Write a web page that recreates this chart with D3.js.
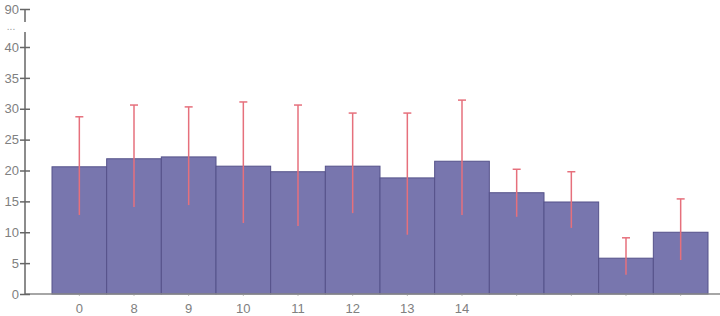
<!DOCTYPE html>
<html>
<head>
<meta charset="utf-8">
<script src="https://cdn.jsdelivr.net/npm/d3@7"></script>
<style>
  body { margin: 0; background: #fff; }
  #canvas { width: 720px; height: 316px; }
  .tick text { font-family: "Liberation Sans", Arial, sans-serif; fill: #808080; }
</style>
</head>
<body>
<div id="canvas"></div>
<script>
// data
const categories = ["a", "b", "c", "d", "e", "f", "g", "h", "i", "j", "k", "l"];
const labels = ["0", "8", "9", "10", "11", "12", "13", "14", "", "", "", ""];
const means = [20.6, 21.9, 22.2, 20.7, 19.8, 20.7, 18.8, 21.5, 16.4, 14.9, 5.8, 10.0];
const errHigh = [28.7, 30.6, 30.3, 31.1, 30.6, 29.3, 29.3, 31.4, 20.2, 19.8, 9.1, 15.4];
const errLow = [12.8, 14.1, 14.4, 11.5, 11.0, 13.1, 9.6, 12.8, 12.5, 10.7, 3.1, 5.5];
const yTicks = [0, 5, 10, 15, 20, 25, 30, 35, 40, 90];

const width = 720;
const height = 316;
const margin = { top: 9, left: 25, bottom: 22, right: 0 };

const svg = d3.select("#canvas").append("svg")
	.attr("width", width)
	.attr("height", height);

// broken axis: 0-40 linear, then jump to 90 at the top
const y = d3.scaleLinear().domain([0, 40, 90]).range([294, 47, margin.top]);

const x = d3.scaleBand()
	.domain(categories)
	.range([52, 708])
	.padding(0);

// bars
svg.append("g")
	.selectAll("rect")
	.data(means)
	.enter()
	.append("rect")
	.attr("x", (d, i) => x(categories[i]))
	.attr("y", (d) => y(d))
	.attr("width", x.bandwidth())
	.attr("height", (d) => y(0) - y(d))
	.style("fill", "#7876ae")
	.style("stroke", "#55528a")
	.style("stroke-width", 1);

// error bars, cap only on top
const err = svg.append("g")
	.style("stroke", "#e6707c")
	.style("stroke-width", 1.5);

categories.forEach((c, i) => {
	const cx = x(c) + x.bandwidth() / 2;
	err.append("line")
		.attr("x1", cx).attr("x2", cx)
		.attr("y1", y(errLow[i])).attr("y2", y(errHigh[i]));
	err.append("line")
		.attr("x1", cx - 4).attr("x2", cx + 4)
		.attr("y1", y(errHigh[i])).attr("y2", y(errHigh[i]));
});

// x axis
const xAxis = svg.append("g")
	.attr("transform", `translate(0, ${y(0)})`)
	.call(d3.axisBottom(x).tickFormat((d, i) => labels[i]).tickSize(2).tickSizeOuter(0));
xAxis.select(".domain").remove();
xAxis.selectAll(".tick line").style("stroke", "#bbb");
xAxis.selectAll(".tick text").style("font-size", "13px").attr("dy", "1.1em");
svg.append("line")
	.attr("x1", margin.left).attr("x2", width)
	.attr("y1", y(0)).attr("y2", y(0))
	.style("stroke", "#888")
	.style("stroke-width", 1.5);

// y axis
const yAxis = svg.append("g")
	.attr("transform", `translate(${margin.left}, 0)`)
	.call(d3.axisLeft(y).tickValues(yTicks).tickSize(5).tickSizeOuter(0));
yAxis.select(".domain").remove();
yAxis.selectAll(".tick line")
	.attr("x1", -5).attr("x2", 5)
	.style("stroke", "#666")
	.style("stroke-width", 1.5);
yAxis.selectAll(".tick text").style("font-size", "13px").attr("x", -6);

const axisColor = "#666";
svg.append("line")
	.attr("x1", margin.left).attr("x2", margin.left)
	.attr("y1", y(90)).attr("y2", 22)
	.style("stroke", axisColor).style("stroke-width", 1.5);
svg.append("line")
	.attr("x1", margin.left).attr("x2", margin.left)
	.attr("y1", 32).attr("y2", y(0))
	.style("stroke", axisColor).style("stroke-width", 1.5);
svg.append("text")
	.attr("x", 11).attr("y", 30)
	.attr("text-anchor", "middle")
	.style("font-family", "Liberation Sans, Arial, sans-serif")
	.style("font-size", "10px")
	.style("fill", "#999")
	.text("...");
</script>
</body>
</html>
